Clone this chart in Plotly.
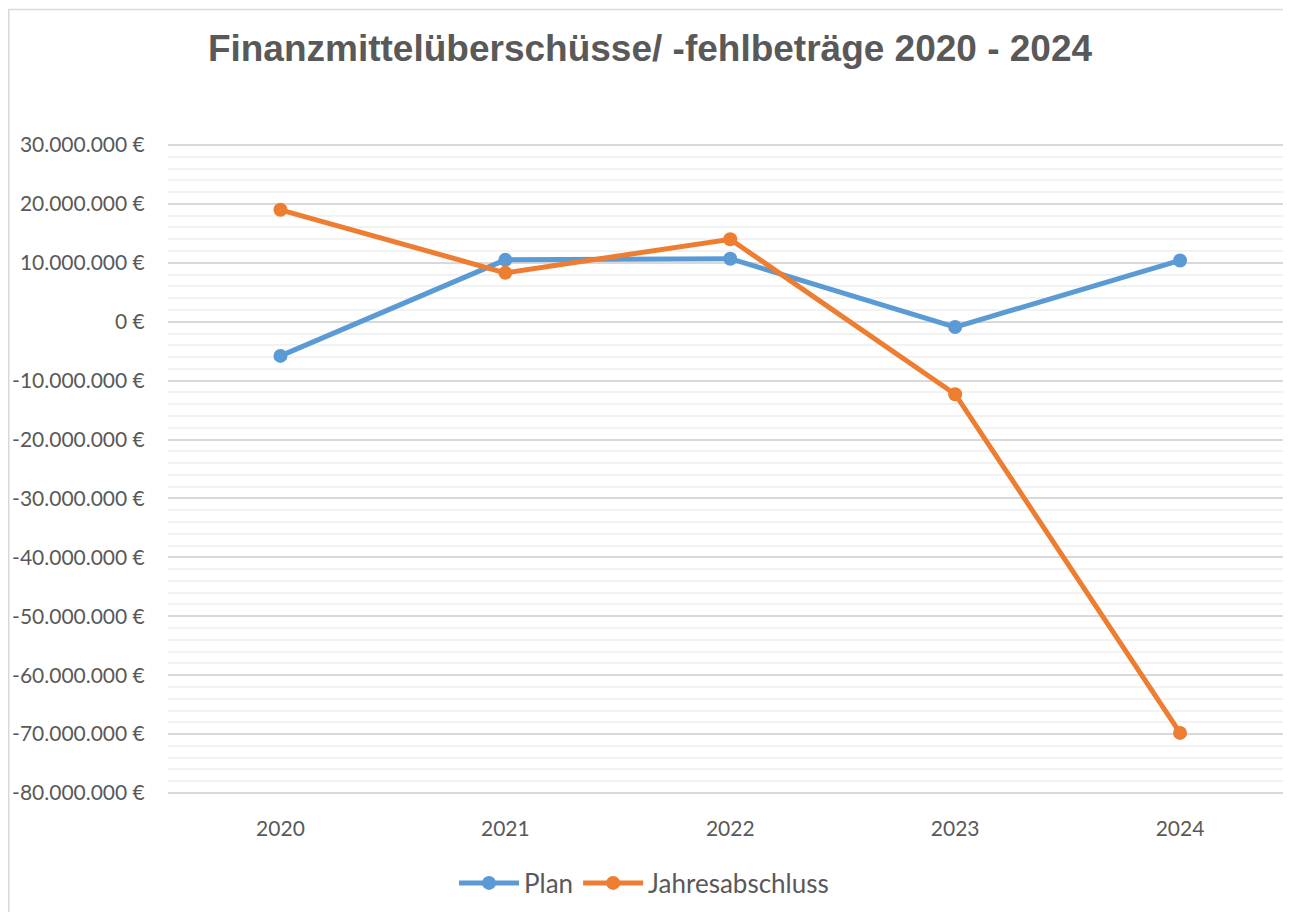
import plotly.graph_objects as go

years = ["2020", "2021", "2022", "2023", "2024"]
plan = [-5_800_000, 10_500_000, 10_700_000, -900_000, 10_400_000]
jahresabschluss = [19_000_000, 8_300_000, 14_000_000, -12_300_000, -69_800_000]
y_tick_vals = [30e6, 20e6, 10e6, 0, -10e6, -20e6, -30e6, -40e6, -50e6, -60e6, -70e6, -80e6]
y_tick_text = ["30.000.000 €", "20.000.000 €", "10.000.000 €", "0 €", "-10.000.000 €",
               "-20.000.000 €", "-30.000.000 €", "-40.000.000 €", "-50.000.000 €",
               "-60.000.000 €", "-70.000.000 €", "-80.000.000 €"]

# page body has an 8px margin; figure coordinates are page coordinates minus 8
W, H = 1275, 904
L, R, T, B = 160, 0, 136, 118
pw, ph = W - L - R, H - T - B

TXT = "#595959"
fig = go.Figure()
fig.add_trace(go.Scatter(x=years, y=plan, name="Plan", mode="lines+markers",
                         line=dict(color="#5B9BD5", width=5),
                         marker=dict(color="#5B9BD5", size=14)))
fig.add_trace(go.Scatter(x=years, y=jahresabschluss, name="Jahresabschluss", mode="lines+markers",
                         line=dict(color="#ED7D31", width=5),
                         marker=dict(color="#ED7D31", size=14)))

def px2x(px):
    return (px - L) / pw

def py2y(py):
    return (H - B - py) / ph

fig.add_shape(type="rect", xref="paper", yref="paper",
              x0=px2x(0.75), x1=px2x(W + 20), y0=py2y(H + 20), y1=py2y(1.5),
              line=dict(color="#D9D9D9", width=1.5), fillcolor="rgba(0,0,0,0)", layer="below")

# edge gridlines (top and bottom of the value axis), which plotly omits at the range limits
for yv in (max(y_tick_vals), min(y_tick_vals)):
    fig.add_shape(type="line", xref="paper", yref="y", x0=0, x1=1, y0=yv, y1=yv,
                  line=dict(color="#D9D9D9", width=2), layer="below")

fig.update_layout(
    width=W, height=H,
    margin=dict(l=L, r=R, t=T, b=B, autoexpand=False),
    paper_bgcolor="white", plot_bgcolor="white",
    title=dict(text="<b>Finanzmittelüberschüsse/ -fehlbeträge 2020 - 2024</b>",
               font=dict(family="Liberation Sans, Arial", size=37, color=TXT),
               x=642 / W, xanchor="center", y=1 - 40 / H, yanchor="middle"),
    showlegend=True,
    legend=dict(orientation="h", x=636 / W, xref="container", xanchor="center",
                y=1 - 875 / H, yref="container", yanchor="middle",
                font=dict(family="Lato", size=26, color=TXT), itemwidth=60,
                bgcolor="rgba(0,0,0,0)"),
    font=dict(family="Lato", color=TXT),
)
fig.update_xaxes(type="category", range=[-0.5, (W - 272) / 225], showgrid=False,
                 showline=False, zeroline=False,
                 ticks="outside", ticklen=16, tickcolor="rgba(0,0,0,0)",
                 tickfont=dict(family="Lato", size=21, color=TXT))
fig.update_yaxes(range=[-80.17e6, 30.17e6], tickvals=y_tick_vals, ticktext=y_tick_text,
                 showgrid=True, gridcolor="#D9D9D9", gridwidth=2,
                 zeroline=False, showline=False,
                 minor=dict(dtick=2e6, showgrid=True, gridcolor="#F2F2F2", gridwidth=2),
                 ticks="outside", ticklen=18, tickcolor="rgba(0,0,0,0)",
                 tickfont=dict(family="Lato", size=21, color=TXT))

fig.write_html("out.html")
